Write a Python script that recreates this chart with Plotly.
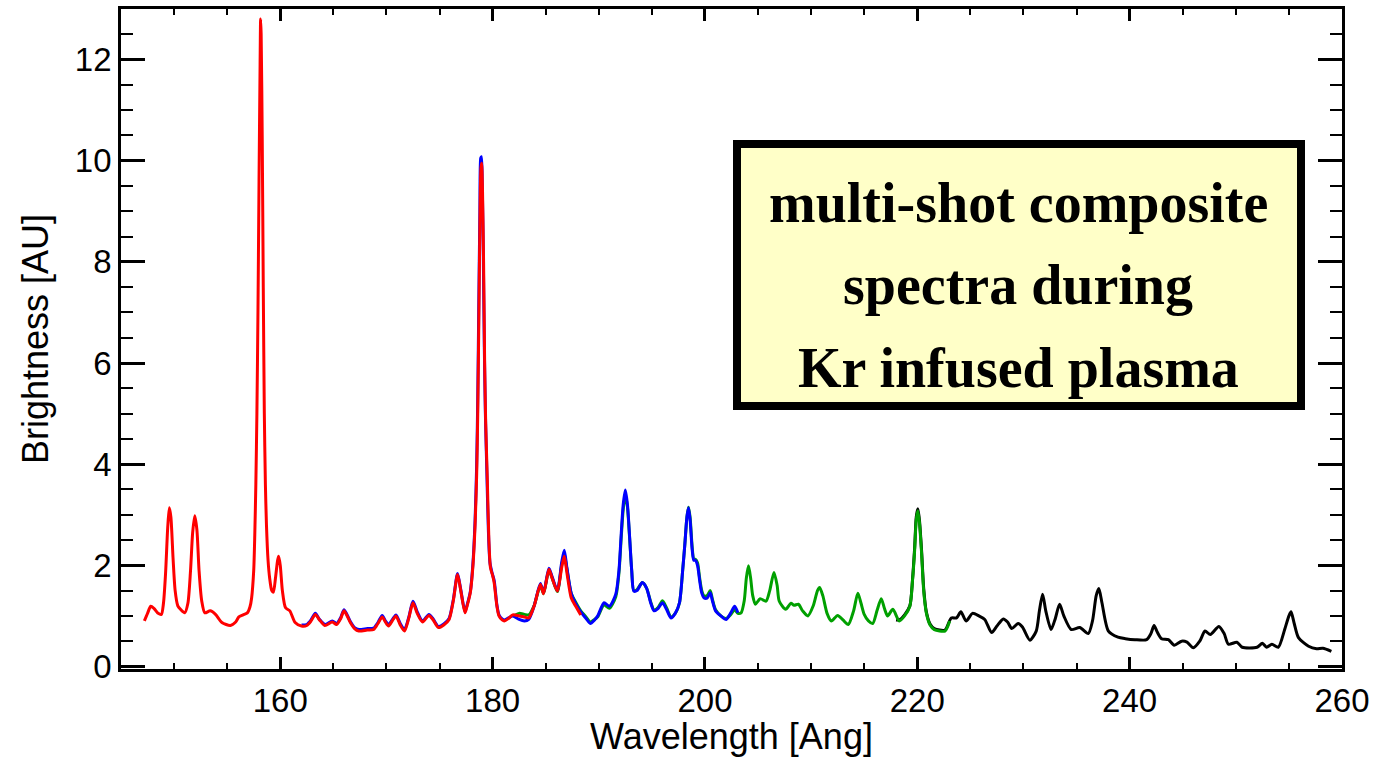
import plotly.graph_objects as go

# ---------------- data ----------------
red_wl = [147.2, 147.5, 147.8, 148.1, 148.5, 148.8, 149.0, 149.2, 149.4, 149.55, 149.7, 149.9, 150.1, 150.35,
          150.6, 151.0, 151.3, 151.55, 151.75, 151.95, 152.15, 152.35, 152.6, 152.9, 153.4, 153.9, 154.5,
          155.3, 155.8, 156.1, 156.5, 156.9, 157.15, 157.3, 157.5, 157.6, 157.7, 157.8, 157.9, 158.0, 158.1,
          158.15, 158.2, 158.3, 158.4, 158.5, 158.6, 158.7, 158.85, 159.0, 159.2, 159.35, 159.55, 159.75,
          159.85, 160.0, 160.2, 160.5, 160.9, 161.4, 162.0, 162.5, 162.9, 163.3, 163.7, 164.2, 164.9, 165.3,
          165.7, 166.0, 166.3, 166.6, 167.0, 167.4, 168.2, 168.8, 169.2, 169.6, 169.9, 170.2, 170.6, 170.9,
          171.3, 171.7, 172.1, 172.5, 172.9, 173.4, 174.0, 174.4, 174.9, 175.4, 175.9, 176.3, 176.7, 177.0,
          177.4, 177.6, 177.9, 178.15, 178.35, 178.5, 178.6, 178.7, 178.8, 178.9, 178.97, 179.05, 179.15,
          179.25, 179.35, 179.5, 179.65, 179.8, 180.0, 180.15, 180.4, 180.6, 180.9, 181.1, 181.5, 181.9,
          182.5, 183.0, 183.4, 183.9, 184.5, 184.8, 185.3, 185.6, 186.1, 186.5, 186.75, 187.0, 187.4, 187.8,
          188.3]
red_br = [0.90, 1.05, 1.19, 1.15, 1.05, 1.03, 1.25, 1.85, 2.75, 3.14, 2.95, 2.15, 1.5, 1.2,
          1.13, 1.06, 1.25, 1.9, 2.65, 2.98, 2.7, 1.9, 1.3, 1.06, 1.10, 1.03, 0.87,
          0.81, 0.88, 0.98, 1.02, 1.06, 1.18, 1.35, 1.9, 2.6, 3.6, 5.0, 7.0, 9.6, 11.9,
          12.8, 12.5, 10.5, 7.5, 5.0, 3.6, 2.8, 2.1, 1.75, 1.5, 1.47, 1.75, 2.1,
          2.18, 2.0, 1.5, 1.16, 1.10, 0.87, 0.80, 0.81, 0.9, 1.03, 0.92, 0.81, 0.88, 0.83,
          0.95, 1.10, 1.0, 0.87, 0.75, 0.70, 0.72, 0.73, 0.85, 0.98, 0.88, 0.80, 0.92, 1.00,
          0.82, 0.70, 0.95, 1.26, 1.05, 0.88, 1.01, 0.92, 0.77, 0.82, 0.93, 1.3, 1.82, 1.5,
          1.06, 1.2, 1.46, 2.0, 2.8, 3.8, 5.0, 6.8, 8.7, 9.85, 9.95, 9.4, 8.0,
          6.0, 4.8, 3.7, 2.5, 1.95, 1.8, 1.65, 1.2, 1.0, 0.92, 0.90, 0.95, 1.02,
          1.0, 0.98, 0.96, 1.19, 1.62, 1.44, 1.92, 1.75, 1.49, 1.95, 2.18, 1.85, 1.36, 1.2,
          1.02]

blue_wl = [162.0, 162.5, 162.9, 163.3, 163.7, 164.2, 164.9, 165.3, 165.7, 166.0, 166.3, 166.6, 167.0, 167.4,
           168.2, 168.8, 169.2, 169.6, 169.9, 170.2, 170.6, 170.9, 171.3, 171.7, 172.1, 172.5, 172.9, 173.4,
           174.0, 174.4, 174.9, 175.4, 175.9, 176.3, 176.7, 177.0, 177.4, 177.6, 177.9, 178.15, 178.35, 178.5,
           178.6, 178.7, 178.8, 178.88, 178.95, 179.02, 179.12, 179.22, 179.32, 179.45, 179.6, 179.75, 179.95,
           180.15, 180.4, 180.6, 180.9, 181.1, 181.5, 181.9, 182.5, 183.0, 183.4, 183.9, 184.5, 184.8, 185.3,
           185.6, 186.1, 186.5, 186.75, 187.0, 187.4, 187.8, 188.3, 188.8, 189.2, 189.6, 189.9, 190.5, 191.0,
           191.6, 191.9, 192.1, 192.3, 192.5, 192.7, 192.9, 193.1, 193.3, 193.6, 194.1, 194.5, 194.9, 195.2,
           195.6, 196.0, 196.4, 196.8, 197.2, 197.6, 197.9, 198.1, 198.3, 198.45, 198.6, 198.8, 198.95, 199.1,
           199.3, 199.5, 199.7, 199.9, 200.2, 200.5, 200.7, 201.0, 201.5, 202.0, 202.4, 202.8, 203.1]
blue_br = [0.82, 0.83, 0.92, 1.05, 0.93, 0.83, 0.90, 0.85, 0.97, 1.12, 1.02, 0.89, 0.77, 0.73,
           0.75, 0.76, 0.87, 1.01, 0.90, 0.83, 0.94, 1.02, 0.85, 0.73, 0.97, 1.29, 1.08, 0.90,
           1.03, 0.94, 0.79, 0.84, 0.95, 1.32, 1.84, 1.52, 1.08, 1.22, 1.48, 2.05, 2.9, 4.0,
           5.3, 7.2, 9.0, 10.05, 10.08, 9.6, 8.2, 6.3, 5.0, 3.9, 2.7, 2.05, 1.85,
           1.7, 1.22, 1.02, 0.94, 0.92, 0.96, 1.0, 0.93, 0.90, 0.93, 1.19, 1.64, 1.46, 1.94,
           1.78, 1.5, 2.05, 2.3, 1.95, 1.45, 1.25, 1.08, 0.95, 0.85, 0.92, 1.0, 1.26, 1.19,
           1.43, 1.9, 2.58, 3.2, 3.49, 3.2, 2.58, 1.9, 1.49, 1.5, 1.66, 1.55, 1.25, 1.10,
           1.15, 1.26, 1.12, 0.96, 1.05, 1.26, 1.9, 2.4, 2.95, 3.14, 2.9, 2.3, 2.1, 2.1,
           2.0, 1.7, 1.45, 1.36, 1.35, 1.46, 1.30, 1.10, 1.0, 0.93, 1.05, 1.19, 1.06]

green_wl = [182.0, 182.5, 183.0, 183.4, 183.9, 184.5, 184.8, 185.3, 185.6, 186.1, 186.5, 186.75, 187.0, 187.4,
            187.8, 188.3, 188.8, 189.2, 189.6, 189.9, 190.5, 191.0, 191.6, 191.9, 192.1, 192.3, 192.5, 192.7,
            192.9, 193.1, 193.3, 193.6, 194.1, 194.5, 194.9, 195.2, 195.6, 196.0, 196.4, 196.8, 197.2, 197.6,
            197.9, 198.1, 198.3, 198.45, 198.6, 198.8, 198.95, 199.1, 199.3, 199.5, 199.7, 199.9, 200.2, 200.5,
            200.7, 201.0, 201.5, 202.0, 202.4, 202.8, 203.1, 203.4, 203.7, 203.9, 204.1, 204.3, 204.5, 204.75,
            205.2, 205.75, 206.1, 206.5, 206.8, 207.0, 207.6, 208.1, 208.4, 208.8, 209.2, 209.7, 210.2, 210.6,
            210.8, 211.1, 211.5, 211.9, 212.5, 213.0, 213.5, 214.0, 214.4, 214.7, 215.0, 215.4, 215.8, 216.2,
            216.6, 216.9, 217.2, 217.7, 218.3, 218.8, 219.3, 219.55, 219.75, 219.9, 220.05, 220.2, 220.4, 220.6,
            220.85, 221.2, 221.6, 222.6, 223.05]
green_br = [1.0, 1.05, 1.03, 1.02, 1.2, 1.6, 1.44, 1.9, 1.75, 1.48, 2.0, 2.22, 1.92, 1.45,
            1.28, 1.1, 0.98, 0.88, 0.93, 0.98, 1.22, 1.15, 1.38, 1.85, 2.5, 3.1, 3.4, 3.15,
            2.55, 1.9, 1.5, 1.52, 1.66, 1.55, 1.27, 1.12, 1.17, 1.3, 1.15, 0.98, 1.05, 1.26,
            1.9, 2.4, 2.95, 3.15, 2.95, 2.35, 2.12, 2.12, 2.05, 1.75, 1.5, 1.4, 1.4, 1.5,
            1.33, 1.12, 1.0, 0.95, 1.02, 1.12, 1.05, 1.06, 1.3, 1.75, 1.99, 1.75, 1.4, 1.23,
            1.34, 1.29, 1.5, 1.86, 1.6, 1.29, 1.13, 1.25, 1.21, 1.23, 1.1, 1.0, 1.2, 1.5,
            1.56, 1.4, 1.05, 0.90, 1.01, 0.92, 0.83, 1.1, 1.45, 1.25, 1.03, 0.9, 0.85, 1.1,
            1.34, 1.15, 1.0, 1.13, 0.90, 1.0, 1.19, 1.7, 2.3, 2.9, 3.08, 2.85, 2.25, 1.5,
            1.06, 0.82, 0.73, 0.70, 0.90]

black_wl = [218.0, 218.3, 218.8, 219.3, 219.55, 219.75, 219.9, 220.05, 220.2, 220.4, 220.6, 220.85, 221.2,
            221.6, 222.6, 223.2, 223.7, 224.1, 224.6, 225.2, 225.8, 226.35, 227.0, 227.5, 228.1, 228.5, 228.9,
            229.5, 229.9, 230.6, 231.2, 231.5, 231.8, 232.1, 232.6, 233.0, 233.4, 233.8, 234.5, 235.3, 236.1,
            236.5, 236.85, 237.1, 237.4, 238.0, 238.9, 239.6, 240.5, 241.6, 242.0, 242.3, 242.6, 243.0, 243.65,
            244.2, 244.9, 245.4, 246.0, 246.6, 247.1, 247.6, 248.4, 248.9, 249.3, 250.1, 250.6, 252.0, 252.5,
            252.9, 253.4, 254.0, 254.6, 255.0, 255.2, 255.5, 255.9, 256.85, 257.6, 258.2, 259.0]
black_br = [0.92, 0.92, 1.02, 1.2, 1.72, 2.35, 2.95, 3.12, 2.9, 2.3, 1.55, 1.08, 0.84,
            0.75, 0.72, 0.96, 0.96, 1.08, 0.90, 1.05, 1.0, 0.93, 0.67, 0.8, 0.94, 0.88, 0.75,
            0.85, 0.78, 0.52, 0.70, 1.1, 1.43, 1.1, 0.73, 0.95, 1.23, 1.0, 0.73, 0.77, 0.65,
            0.9, 1.4, 1.54, 1.25, 0.70, 0.58, 0.55, 0.53, 0.53, 0.65, 0.81, 0.68, 0.55, 0.53,
            0.42, 0.50, 0.48, 0.37, 0.5, 0.70, 0.63, 0.79, 0.65, 0.44, 0.48, 0.38, 0.38, 0.46,
            0.38, 0.44, 0.38, 0.73, 1.0, 1.08, 0.85, 0.57, 0.40, 0.35, 0.36, 0.30]

box_lines = ["multi-shot composite", "spectra during", "Kr infused plasma"]
x_title = "Wavelength [Ang]"
y_title = "Brightness [AU]"

# ---------------- figure ----------------
fig = go.Figure()
series = [(black_wl, black_br, "black"), (green_wl, green_br, "#00A000"),
          (blue_wl, blue_br, "#0000FF"), (red_wl, red_br, "#FF0000")]
for wl, br, col in series:
    fig.add_trace(go.Scatter(x=wl, y=br, mode="lines", hoverinfo="skip",
                             line=dict(color=col, width=3, shape="spline", smoothing=0.7)))

W, H = 1385, 757
L, R, T, B = 121, 43, 9, 88
pw, ph = W - L - R, H - T - B

def px2paper(x, y):
    return (x - L) / pw, (H - B - y) / ph

tickfont = dict(family="Liberation Sans, Arial, sans-serif", size=33, color="black")
titlefont = dict(family="Liberation Sans, Arial, sans-serif", size=36, color="black")

fig.update_layout(
    width=W, height=H, margin=dict(l=L, r=R, t=T, b=B, autoexpand=False),
    paper_bgcolor="white", plot_bgcolor="white", showlegend=False,
    xaxis=dict(range=[145, 260], tick0=160, dtick=20, ticks="inside", ticklen=12, tickwidth=2.5,
               tickcolor="black", showline=True, linewidth=2.8, linecolor="black", mirror="allticks",
               showgrid=False, zeroline=False, tickfont=tickfont,
               minor=dict(tick0=145, dtick=5, ticks="inside", ticklen=6, tickwidth=2, tickcolor="black",
                          showgrid=False),
               title=dict(text=x_title, font=titlefont, standoff=4)),
    yaxis=dict(range=[-0.05, 13.0], tick0=0, dtick=2, ticks="inside", ticklen=24, tickwidth=2.5,
               tickcolor="black", showline=True, linewidth=2.8, linecolor="black", mirror="allticks",
               showgrid=False, zeroline=False, tickfont=tickfont,
               minor=dict(tick0=0, dtick=0.5, ticks="inside", ticklen=12, tickwidth=2, tickcolor="black",
                          showgrid=False),
               title=dict(text=y_title, font=titlefont, standoff=16)),
)

# text box
x0, y0 = px2paper(737, 144)
x1, y1 = px2paper(1301, 406)
fig.add_shape(type="rect", xref="paper", yref="paper", x0=x0, y0=y1, x1=x1, y1=y0,
              fillcolor="#FFFFC8", line=dict(color="black", width=8), layer="above")
for i, (txt, yc) in enumerate(zip(box_lines, [203, 285, 368])):
    xa, ya = px2paper(1018, yc)
    fig.add_annotation(text="<b>%s</b>" % txt, xref="paper", yref="paper", x=xa, y=ya,
                       xanchor="center", yanchor="middle", showarrow=False,
                       font=dict(family="Liberation Serif, Times New Roman, serif", size=56, color="black"))

fig.write_html("out.html")
